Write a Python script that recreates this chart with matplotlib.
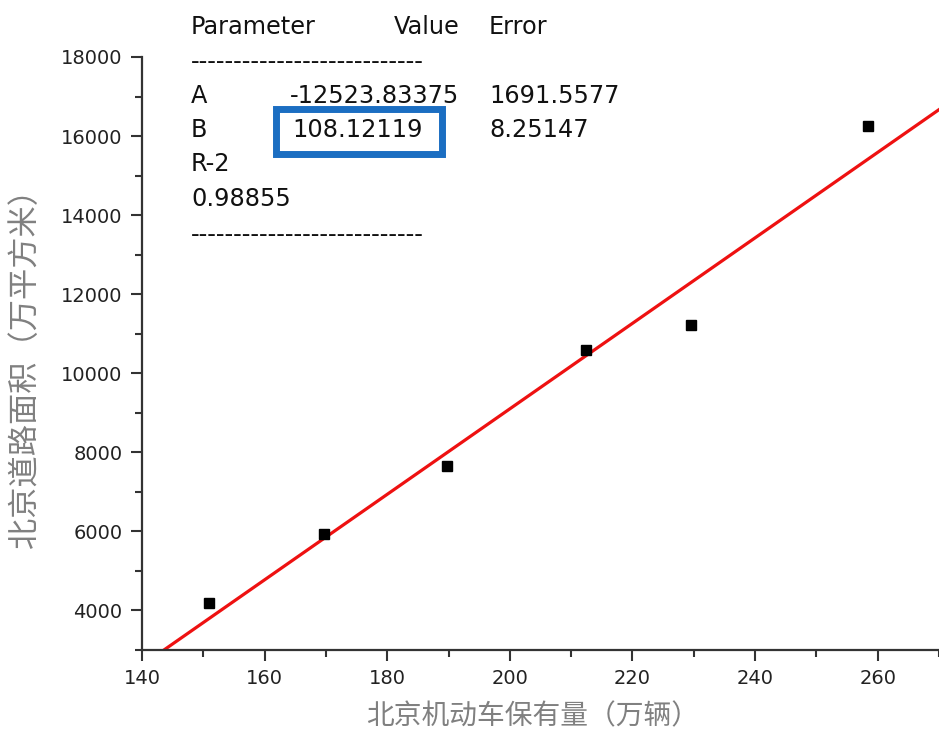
import matplotlib
matplotlib.use('Agg')
import matplotlib.pyplot as plt
import matplotlib.ticker as plticker
import matplotlib.patches as mpatches
import numpy as np

plt.rcParams['font.family'] = ['DejaVu Sans', 'Noto Sans CJK SC']

# -- data: Beijing motor vehicles vs road area
vehicles   = [150.9, 169.7, 189.7, 212.5, 229.5, 258.4]      # 万辆
road_area  = [4196, 5933, 7652, 10584, 11216, 16247]          # 万平方米

fit_A, fit_A_err = -12523.83375, 1691.5577
fit_B, fit_B_err = 108.12119, 8.25147
fit_R2           = 0.98855

xlabel = '北京机动车保有量（万辆）'
ylabel = '北京道路面积（万平方米）'

xlim = [140, 270]
ylim = [3000, 18000]

# -- plotting
fig = plt.figure(figsize=(9.39, 7.37), dpi=100)
fig.patch.set_facecolor('white')
ax = fig.add_axes([142/939, 1-650/737, 1-142/939, (650-57)/737])

xfit = np.array(xlim, dtype=float)
ax.plot(xfit, fit_A + fit_B*xfit, color='#ee1111', linewidth=2.3, zorder=2)
ax.plot(vehicles, road_area, 's', color='black', markersize=7.8, zorder=3)

ax.set_xlim(xlim)
ax.set_ylim(ylim)
for side in ['top', 'right']:
    ax.spines[side].set_visible(False)
for side in ['left', 'bottom']:
    ax.spines[side].set_color('#333333')
    ax.spines[side].set_linewidth(1.6)

ax.xaxis.set_major_locator(plticker.MultipleLocator(20))
ax.xaxis.set_minor_locator(plticker.MultipleLocator(10))
ax.yaxis.set_major_locator(plticker.MultipleLocator(2000))
ax.yaxis.set_minor_locator(plticker.MultipleLocator(1000))
ax.tick_params(which='major', direction='out', length=8, width=1.5,
               color='#333333', labelsize=14, labelcolor='#222222', pad=6)
ax.tick_params(which='minor', direction='out', length=5, width=1.5, color='#333333')

# axis titles
fig.text(533/939, 1-716/737, xlabel, fontsize=20, color='#808080',
         ha='center', va='center', family=['Noto Sans CJK SC'])
fig.text(25/939, 1-360/737, ylabel, fontsize=22.5, color='#808080', rotation=90,
         ha='center', va='center', family=['Noto Sans CJK SC'])

# fit parameter table
fs  = 17.3
col = [191/939, 290/939, 489/939]
row = [1-y/737 for y in [27, 62, 96, 130, 164, 199, 235]]
dash = '-'*27
fig.text(col[0], row[0], 'Parameter', fontsize=fs, va='center', color='#111111')
fig.text(460/939, row[0], 'Value', fontsize=fs, va='center', ha='right', color='#111111')
fig.text(col[2], row[0], 'Error', fontsize=fs, va='center', color='#111111')
fig.text(col[0], row[1], dash, fontsize=fs, va='center', color='#111111')
fig.text(col[0], row[2], 'A', fontsize=fs, va='center', color='#111111')
fig.text(col[1], row[2], '%.5f' % fit_A, fontsize=fs, va='center', color='#111111')
fig.text(col[2], row[2], '%.4f' % fit_A_err, fontsize=fs, va='center', color='#111111')
fig.text(col[0], row[3], 'B', fontsize=fs, va='center', color='#111111')
fig.text(col[1] + 2/939, row[3], '%.5f' % fit_B, fontsize=fs, va='center', color='#111111')
fig.text(col[2], row[3], '%.5f' % fit_B_err, fontsize=fs, va='center', color='#111111')
fig.text(col[0], row[4], 'R-2', fontsize=fs, va='center', color='#111111')
fig.text(col[0], row[5], '%.5f' % fit_R2, fontsize=fs, va='center', color='#111111')
fig.text(col[0], row[6], dash, fontsize=fs, va='center', color='#111111')

# highlight box round the slope value
box = mpatches.Rectangle((275.5/939, 1-154/737), (442-275.5)/939, (154-108.5)/737,
                         transform=fig.transFigure, fill=False,
                         edgecolor='#1b6ec2', linewidth=5)
fig.patches.append(box)

fig.savefig('out.png', dpi=100, facecolor='white')
